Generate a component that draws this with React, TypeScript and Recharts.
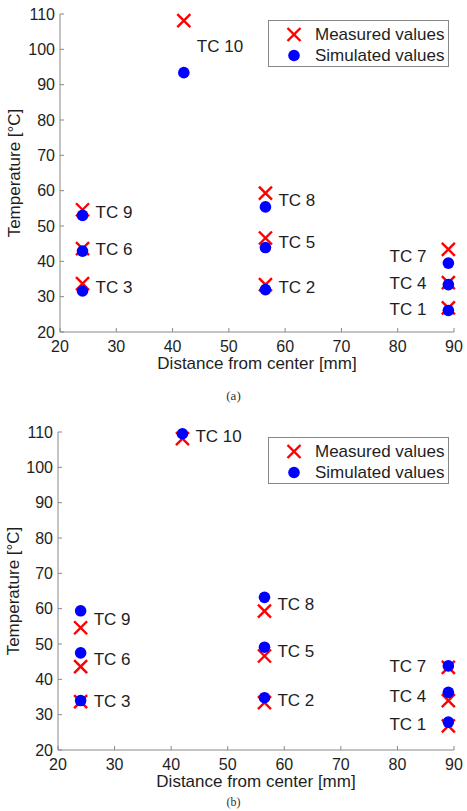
import React from "react"
import { Label, Scatter, ScatterChart, XAxis, YAxis } from "recharts"

const sensors = ["TC 1", "TC 2", "TC 3", "TC 4", "TC 5", "TC 6", "TC 7", "TC 8", "TC 9", "TC 10"]
const distance = [89, 56.5, 24, 89, 56.5, 24, 89, 56.5, 24, 42]
const measured = [26.8, 33.4, 33.7, 34.0, 46.6, 43.6, 43.4, 59.3, 54.6, 108.1]
const simulatedA = [26.1, 32.0, 31.6, 33.4, 43.9, 42.9, 39.5, 55.4, 53.0, 93.4]
const simulatedB = [27.9, 34.8, 34.0, 36.3, 49.1, 47.5, 43.8, 63.2, 59.4, 109.5]

const xTicks = [20, 30, 40, 50, 60, 70, 80, 90]
const yTicks = [20, 30, 40, 50, 60, 70, 80, 90, 100, 110]

const FONT = "'Liberation Sans', Arial, Helvetica, sans-serif"
const AXIS = "#888"
const TEXT = "#1e1e1e"

const XTick = (props: any) => {
  const { x, y, payload } = props
  return (
    <g>
      <line x1={x} x2={x} y1={y} y2={y - 4} stroke={AXIS} />
      <text x={x} y={y + 14} textAnchor="middle" dominantBaseline="central" fontSize={16} fill={TEXT} fontFamily={FONT}>
        {payload.value}
      </text>
    </g>
  )
}

const YTick = (props: any) => {
  const { x, y, payload } = props
  return (
    <g>
      <line x1={x} x2={x + 4} y1={y} y2={y} stroke={AXIS} />
      <text x={x - 5} y={y} textAnchor="end" dominantBaseline="central" fontSize={16} fill={TEXT} fontFamily={FONT}>
        {payload.value}
      </text>
    </g>
  )
}

const Cross = (props: any) => {
  const { cx, cy } = props
  const s = 6.5
  return (
    <g stroke="#ff0000" strokeWidth={2.4}>
      <line x1={cx - s} y1={cy - s} x2={cx + s} y2={cy + s} />
      <line x1={cx - s} y1={cy + s} x2={cx + s} y2={cy - s} />
    </g>
  )
}

const Dot = (props: any) => <circle cx={props.cx} cy={props.cy} r={5.8} fill="#0000ff" />

const SensorLabel = (props: any) => {
  const { cx, cy } = props
  const p = props.payload || props
  const left = p.x > 80
  return (
    <text
      x={left ? cx - 22 : cx + 13}
      y={cy}
      textAnchor={left ? "end" : "start"}
      dominantBaseline="central"
      fontSize={17}
      fill={TEXT}
      fontFamily={FONT}
    >
      {p.name}
    </text>
  )
}

function LegendBox({ top }: { top: number }) {
  return (
    <div
      style={{
        position: "absolute",
        left: 268,
        top,
        width: 179,
        height: 45,
        border: "1px solid #888",
        background: "#fff",
        fontFamily: FONT,
        fontSize: 17,
        color: TEXT,
      }}
    >
      {[0, 1].map((i) => (
        <div key={i} style={{ position: "absolute", left: 0, top: 3 + i * 21, height: 21, display: "flex", alignItems: "center" }}>
          <svg width={46} height={21} style={{ display: "block" }}>
            {i === 0 ? <Cross cx={25} cy={10.5} /> : <Dot cx={25} cy={10.5} />}
          </svg>
          <span style={{ whiteSpace: "nowrap" }}>{i === 0 ? "Measured values" : "Simulated values"}</span>
        </div>
      ))}
    </div>
  )
}

function TempChart({ simulated, height, marginTop, marginBottom, yWidth, yLabelX }: any) {
  const measuredRows = sensors.map((name, i) => ({ name, x: distance[i], y: measured[i] }))
  const simulatedRows = sensors.map((name, i) => ({ name, x: distance[i], y: simulated[i] }))
  const labelRows = sensors.map((name, i) => ({ name, x: distance[i], y: (measured[i] + simulated[i]) / 2 }))

  return (
    <ScatterChart width={467} height={height} margin={{ top: marginTop, right: 13, bottom: marginBottom, left: 0 }}>
      <XAxis
        type="number"
        dataKey="x"
        domain={[20, 90]}
        ticks={xTicks}
        interval={0}
        stroke={AXIS}
        tickLine={false}
        tickSize={0}
        tickMargin={0}
        tick={XTick}
        height={50}
      >
        <Label
          content={({ viewBox }: any) => (
            <text
              x={viewBox.x + viewBox.width / 2}
              y={viewBox.y + 31}
              textAnchor="middle"
              dominantBaseline="central"
              fontSize={17}
              fill={TEXT}
              fontFamily={FONT}
            >
              Distance from center [mm]
            </text>
          )}
        />
      </XAxis>
      <YAxis
        type="number"
        dataKey="y"
        domain={[20, 110]}
        ticks={yTicks}
        interval={0}
        stroke={AXIS}
        tickLine={false}
        tickSize={0}
        tickMargin={0}
        tick={YTick}
        width={yWidth}
      >
        <Label
          content={({ viewBox }: any) => {
            const cy = viewBox.y + viewBox.height / 2
            return (
              <text
                x={yLabelX}
                y={cy}
                transform={`rotate(-90, ${yLabelX}, ${cy})`}
                textAnchor="middle"
                dominantBaseline="central"
                fontSize={17}
                fill={TEXT}
                fontFamily={FONT}
              >
                Temperature [°C]
              </text>
            )
          }}
        />
      </YAxis>
      <Scatter data={measuredRows} shape={Cross} isAnimationActive={false} />
      <Scatter data={simulatedRows} shape={Dot} isAnimationActive={false} />
      <Scatter data={labelRows} shape={SensorLabel} isAnimationActive={false} />
    </ScatterChart>
  )
}

export default function App() {
  return (
    <div style={{ position: "absolute", left: 0, top: 0, width: 467, height: 811, background: "#fff", overflow: "hidden" }}>
      <div style={{ position: "absolute", left: 0, top: 0 }}>
        <TempChart simulated={simulatedA} height={400} marginTop={14} marginBottom={18} yWidth={60} yLabelX={14} />
      </div>
      <LegendBox top={20} />
      <div style={{ position: "absolute", left: 0, top: 388, width: 467, textAlign: "center", fontFamily: "'Liberation Serif', serif", fontSize: 13, color: "#333" }}>
        (a)
      </div>
      <div style={{ position: "absolute", left: 0, top: 400 }}>
        <TempChart simulated={simulatedB} height={411} marginTop={32} marginBottom={11} yWidth={58} yLabelX={13} />
      </div>
      <LegendBox top={437} />
      <div style={{ position: "absolute", left: 0, top: 795, width: 467, textAlign: "center", fontFamily: "'Liberation Serif', serif", fontSize: 12, lineHeight: "14px", color: "#333" }}>
        (b)
      </div>
    </div>
  )
}
